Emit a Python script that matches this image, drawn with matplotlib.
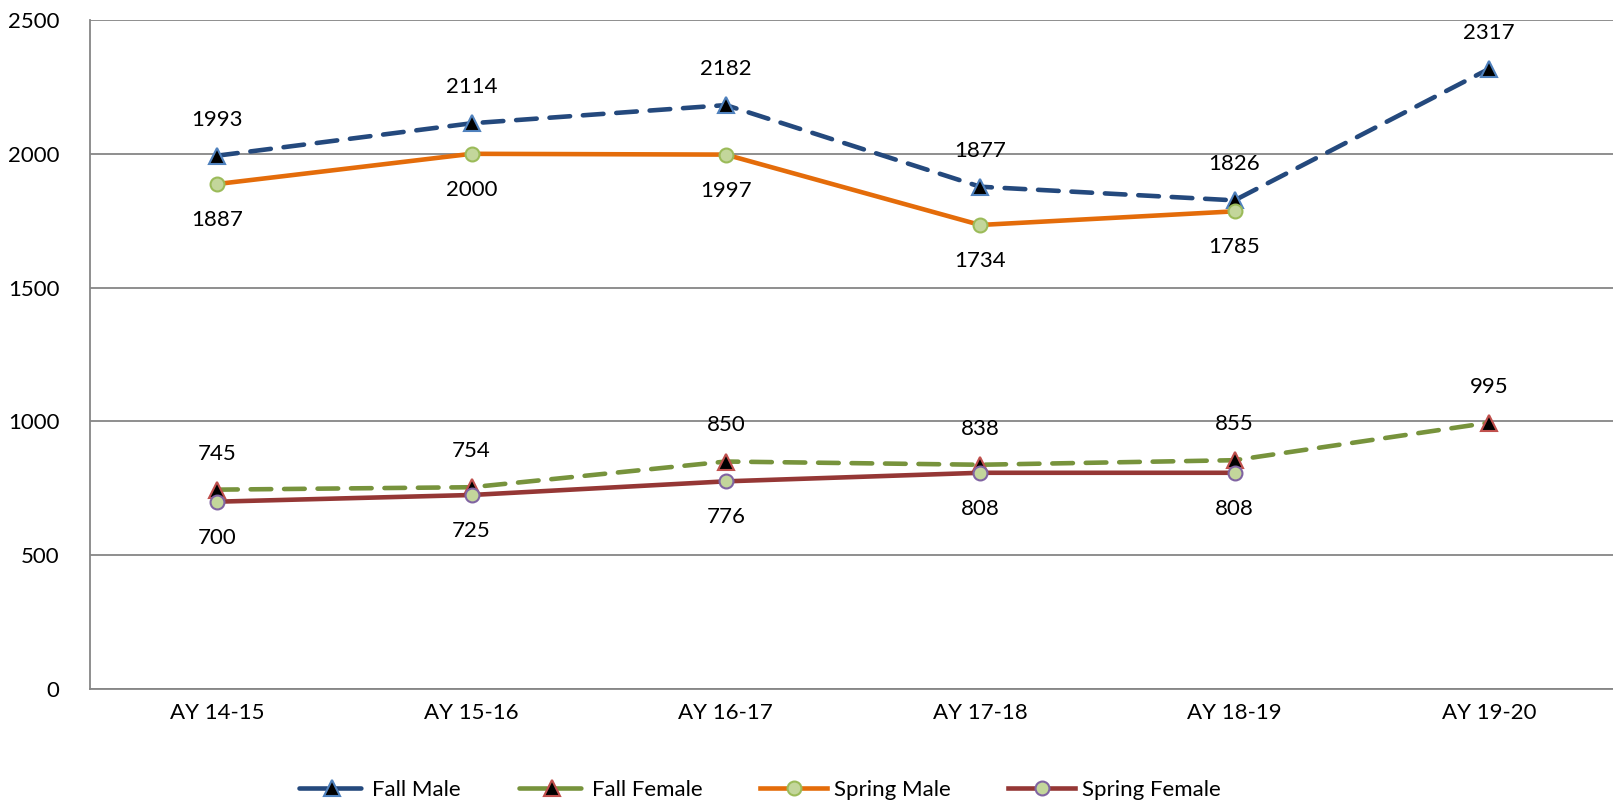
import matplotlib
matplotlib.use("Agg")
import matplotlib.pyplot as plt
from matplotlib.lines import Line2D
import numpy as np

categories = ["AY 14-15", "AY 15-16", "AY 16-17", "AY 17-18", "AY 18-19", "AY 19-20"]
fall_male = [1993, 2114, 2182, 1877, 1826, 2317]
fall_female = [745, 754, 850, 838, 855, 995]
spring_male = [1887, 2000, 1997, 1734, 1785, np.nan]
spring_female = [700, 725, 776, 808, 808, np.nan]

plt.rcParams['font.family'] = ['Lato', 'DejaVu Sans']

fig = plt.figure(figsize=(16.13, 8.05), dpi=100)
ax = fig.add_axes([90/1613, 1-689/805, 1526/1613, (689-20)/805])
x = np.arange(len(categories))

series = [
    ("Fall Male", fall_male, "#24497D", "^", "black", "#4F81BD", (0, (4.5, 2.8)), 12, 1),
    ("Fall Female", fall_female, "#77933C", "^", "black", "#C0504D", (0, (4.5, 2.8)), 12, 1),
    ("Spring Male", spring_male, "#E46C0A", "o", "#C3D69B", "#9BBB59", "-", 10, -1),
    ("Spring Female", spring_female, "#953735", "o", "#C3D69B", "#8064A2", "-", 10, -1),
]

handles = []
for name, vals, col, mk, mfc, mec, ls, ms, side in series:
    ax.plot(x, vals, color=col, lw=3.3, ls=ls, marker=mk, markersize=ms,
            markerfacecolor=mfc, markeredgecolor=mec, markeredgewidth=1.5,
            solid_capstyle='round', dash_capstyle='round', zorder=3)
    hls = (0, (6, 1.5)) if ls != "-" else "-"
    handles.append(Line2D([], [], color=col, lw=3.3, ls=hls, marker=mk, markersize=ms,
                          markerfacecolor=mfc, markeredgecolor=mec, markeredgewidth=1.5,
                          dash_capstyle='round', label=name))
    for xi, v in zip(x, vals):
        if np.isnan(v):
            continue
        ax.annotate(f"{int(v)}", (xi, v), xytext=(0, 26*side), textcoords="offset points",
                    ha="center", va="center", fontsize=16, color="black")

ax.set_xlim(-0.5, 5.5)
ax.set_ylim(0, 2500)
ax.set_yticks([0, 500, 1000, 1500, 2000, 2500])
ax.set_xticks(x)
ax.set_xticklabels(categories)
ax.tick_params(axis='both', labelsize=16, length=0, pad=10)
ax.tick_params(axis='y', pad=22)
ax.yaxis.grid(True, color="#868686", lw=1.3)
ax.set_axisbelow(True)
for s in ["top", "right"]:
    ax.spines[s].set_visible(False)
for s in ["left", "bottom"]:
    ax.spines[s].set_color("#868686")
    ax.spines[s].set_linewidth(1.3)

fig.legend(handles=handles, loc="center", bbox_to_anchor=(0.471, 1-790/805), ncol=4,
           frameon=False, fontsize=16, handlelength=3, columnspacing=2.6, handletextpad=0.3)

fig.savefig("out.png", dpi=100)
